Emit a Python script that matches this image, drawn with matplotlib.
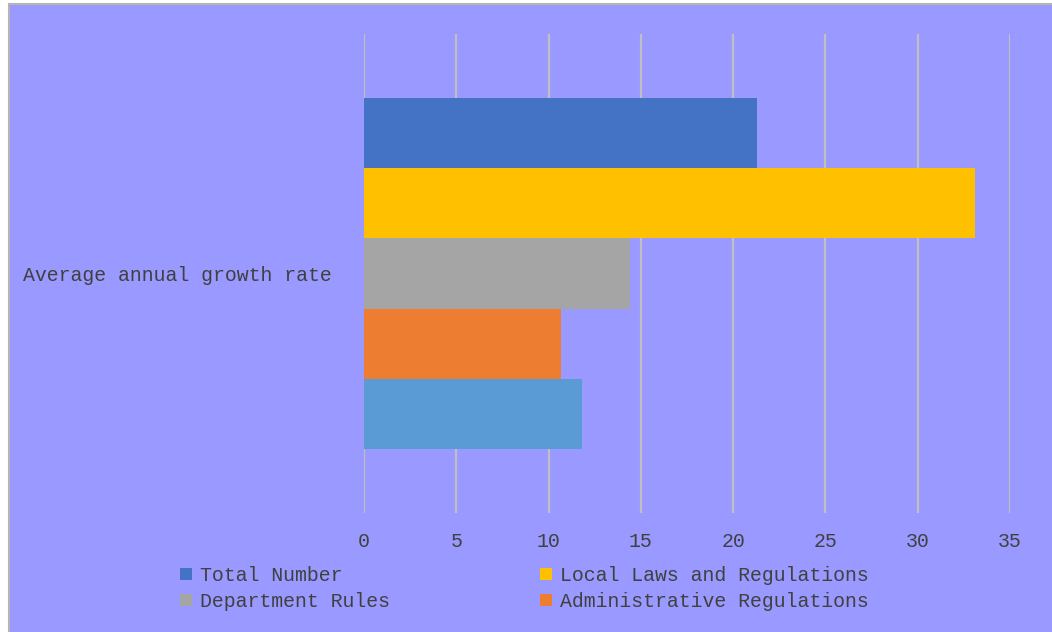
import matplotlib
matplotlib.use("Agg")
import matplotlib.pyplot as plt
from matplotlib.patches import Rectangle, Patch

# Data
category = ["Average annual growth rate"]
series_names = ["Total Number", "Local Laws and Regulations", "Department Rules",
                "Administrative Regulations", "Other"]
series_values = [21.3, 33.1, 14.4, 10.7, 11.8]
series_colors = ["#4472C4", "#FFC000", "#A5A5A5", "#ED7D31", "#5B9BD5"]
x_ticks = [0, 5, 10, 15, 20, 25, 30, 35]

plt.rcParams["font.family"] = ["Liberation Mono", "DejaVu Sans Mono"]
text_color = "#404040"
bg = "#9999FF"
fs = 14.3

W, H = 1052, 632
fig = plt.figure(figsize=(W / 100, H / 100), dpi=100)
fig.patch.set_facecolor("white")
# chart area frame (white strip at top/left as in the screenshot)
fig.add_artist(Rectangle((9 / W, -0.01), 1.02, 1 - 4 / H + 0.01, transform=fig.transFigure,
                         facecolor=bg, edgecolor="#B4B4B4", linewidth=1.5, zorder=-10))

ax = fig.add_axes([364 / W, 1 - 513 / H, (1010 - 364) / W, (513 - 34) / H])
ax.set_facecolor("none")

n = len(series_values)
group = 0.733
bh = group / n
for i, (name, val, col) in enumerate(zip(series_names, series_values, series_colors)):
    y = group / 2 - bh * (i + 0.5)
    ax.barh(y, val, height=bh, color=col, label=name, zorder=3)

ax.set_xlim(0, 35)
ax.set_ylim(-0.5, 0.5)
ax.set_xticks(x_ticks)
ax.set_xticklabels([str(t) for t in x_ticks])
ax.set_yticks([0])
ax.set_yticklabels(category)
ax.tick_params(axis="x", length=0, pad=14, labelsize=fs, labelcolor=text_color)
ax.tick_params(axis="y", length=0, pad=23, labelsize=fs, labelcolor=text_color)
ax.grid(axis="x", color="#C0C0C0", linewidth=1.6, zorder=0)
for s in ax.spines.values():
    s.set_visible(False)

# legend: Excel row-wise order, only four entries fit in the frame
order = [0, 2, 1, 3]
handles = [Patch(facecolor=series_colors[i], label=series_names[i]) for i in order]
leg = fig.legend(handles=handles, loc="upper left", ncol=2,
                 bbox_to_anchor=(180 / W, 1 - 566 / H), frameon=False,
                 fontsize=fs, handlelength=0.6, handleheight=0.6, handletextpad=0.4,
                 columnspacing=7.55, labelspacing=0.36, borderpad=0, borderaxespad=0)
for t in leg.get_texts():
    t.set_color(text_color)

fig.savefig("out.png", dpi=100, facecolor=fig.get_facecolor())
